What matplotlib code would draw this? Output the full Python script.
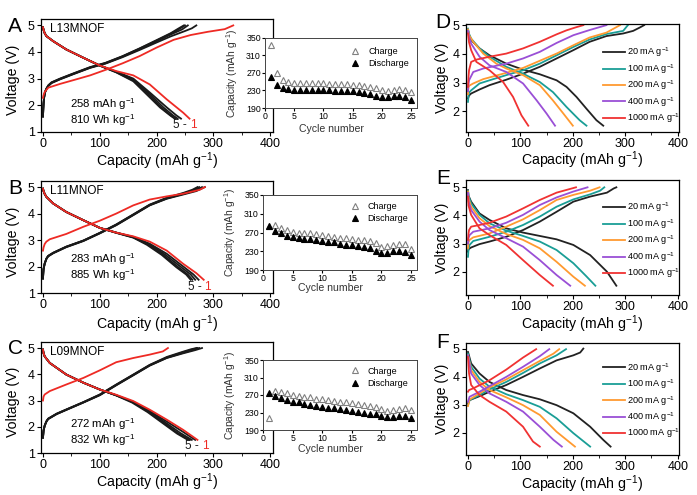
import matplotlib
matplotlib.use('Agg')
import matplotlib.pyplot as plt
from matplotlib.ticker import MultipleLocator

plt.rcParams['font.family'] = ['Liberation Sans', 'DejaVu Sans']
plt.rcParams['mathtext.default'] = 'regular'
plt.rcParams['axes.linewidth'] = 0.9
plt.rcParams['xtick.direction'] = 'out'
plt.rcParams['ytick.direction'] = 'out'

# ---------------- data: panels A-C (charge / discharge profiles) ----------------
A_name = "L13MNOF"; A_caption = ["258 mAh g$^{-1}$", "810 Wh kg$^{-1}$"]
A_chg_red_cap = [0, 0.6, 3, 9.4, 30, 60, 83, 112, 140, 170, 200, 230, 260, 290, 320, 335]
A_chg_red_v = [2.28, 2.35, 2.5, 2.66, 2.8, 2.98, 3.12, 3.34, 3.57, 3.84, 4.16, 4.45, 4.63, 4.75, 4.85, 4.99]
A_chg_blk_cap = [[0, 0.5, 1, 2, 3.5, 6, 9.4, 15, 30, 53, 83, 110, 140, 170, 200, 225, 250, 262, 270],
                 [0, 0.5, 1, 2, 3.5, 6, 9.4, 15, 30, 53, 83, 110, 140, 170, 200, 225, 245, 255],
                 [0, 0.5, 1, 2, 3.5, 6, 9.4, 15, 30, 53, 83, 110, 140, 170, 200, 225, 241, 250],
                 [0, 0.5, 1, 2, 3.5, 6, 9.4, 15, 30, 53, 83, 110, 140, 170, 200, 225, 239, 248]]
A_chg_blk_v = [[1.6, 1.85, 2.05, 2.28, 2.47, 2.6, 2.72, 2.83, 2.97, 3.16, 3.4, 3.56, 3.8, 4.07, 4.35, 4.58, 4.78, 4.88, 4.99],
               [1.59, 1.86, 2.06, 2.29, 2.48, 2.61, 2.73, 2.84, 2.98, 3.17, 3.41, 3.57, 3.82, 4.1, 4.4, 4.65, 4.84, 4.99],
               [1.58, 1.87, 2.07, 2.3, 2.49, 2.62, 2.74, 2.85, 2.99, 3.18, 3.42, 3.58, 3.83, 4.12, 4.42, 4.68, 4.87, 4.99],
               [1.57, 1.88, 2.08, 2.31, 2.5, 2.63, 2.75, 2.86, 3.0, 3.19, 3.43, 3.59, 3.84, 4.13, 4.44, 4.7, 4.88, 4.99]]
A_dis_red_cap = [0, 1, 3, 6, 18, 41, 71, 100, 129, 159, 188, 218, 247, 258]
A_dis_red_v = [4.92, 4.82, 4.7, 4.59, 4.4, 4.09, 3.78, 3.49, 3.28, 3.12, 2.78, 2.22, 1.72, 1.5]
A_dis_blk_cap = [[0, 1, 3, 6, 18, 41, 71, 100, 129, 159, 188, 218, 235, 243],
                 [0, 1, 3, 6, 18, 41, 71, 100, 129, 159, 188, 212, 229, 237],
                 [0, 1, 3, 6, 18, 41, 71, 100, 129, 159, 185, 208, 225, 233],
                 [0, 1, 3, 6, 18, 41, 71, 100, 129, 159, 183, 206, 224, 232]]
A_dis_blk_v = [[4.92, 4.82, 4.7, 4.59, 4.4, 4.09, 3.78, 3.49, 3.26, 3.0, 2.48, 1.92, 1.62, 1.5],
               [4.92, 4.82, 4.7, 4.59, 4.4, 4.09, 3.78, 3.49, 3.25, 2.97, 2.42, 1.92, 1.62, 1.5],
               [4.92, 4.82, 4.7, 4.59, 4.4, 4.09, 3.78, 3.49, 3.24, 2.93, 2.42, 1.92, 1.62, 1.5],
               [4.92, 4.82, 4.7, 4.59, 4.4, 4.09, 3.78, 3.48, 3.23, 2.9, 2.4, 1.92, 1.62, 1.5]]

B_name = "L11MNOF"; B_caption = ["283 mAh g$^{-1}$", "885 Wh kg$^{-1}$"]
B_chg_red_cap = [0, 1, 3, 6, 12, 41, 71, 100, 129, 159, 188, 218, 247, 276, 285]
B_chg_red_v = [2.6, 2.72, 2.85, 2.94, 3.03, 3.23, 3.5, 3.73, 4.0, 4.31, 4.53, 4.65, 4.75, 4.9, 5.0]
B_chg_blk_cap = [[0, 0.5, 1, 3, 6, 9, 18, 41, 71, 100, 129, 159, 188, 218, 247, 270, 285],
                 [0, 0.5, 1, 3, 6, 9, 18, 41, 71, 100, 129, 159, 188, 218, 247, 268, 280],
                 [0, 0.5, 1, 3, 6, 9, 18, 41, 71, 100, 129, 159, 188, 218, 247, 265, 275],
                 [0, 0.5, 1, 3, 6, 9, 18, 41, 71, 100, 129, 159, 188, 218, 247, 263, 272]]
B_chg_blk_v = [[1.56, 1.75, 1.9, 2.1, 2.28, 2.38, 2.5, 2.73, 2.96, 3.25, 3.56, 3.94, 4.31, 4.56, 4.72, 4.85, 5.0],
               [1.55, 1.75, 1.9, 2.11, 2.29, 2.39, 2.51, 2.74, 2.97, 3.26, 3.57, 3.95, 4.32, 4.57, 4.74, 4.87, 5.0],
               [1.55, 1.76, 1.91, 2.12, 2.3, 2.4, 2.52, 2.75, 2.98, 3.27, 3.58, 3.96, 4.33, 4.58, 4.76, 4.88, 5.0],
               [1.54, 1.76, 1.91, 2.12, 2.3, 2.4, 2.52, 2.75, 2.98, 3.27, 3.59, 3.97, 4.34, 4.6, 4.78, 4.9, 5.0]]
B_dis_red_cap = [0, 1, 3, 6, 18, 41, 71, 100, 129, 159, 188, 218, 247, 270, 283]
B_dis_red_v = [4.94, 4.85, 4.74, 4.63, 4.38, 4.06, 3.75, 3.46, 3.28, 3.14, 2.94, 2.6, 2.1, 1.75, 1.5]
B_dis_blk_cap = [[0, 1, 3, 6, 18, 41, 71, 100, 129, 159, 188, 218, 247, 265, 274],
                 [0, 1, 3, 6, 18, 41, 71, 100, 129, 159, 188, 215, 243, 260, 268],
                 [0, 1, 3, 6, 18, 41, 71, 100, 129, 159, 185, 211, 238, 255, 263],
                 [0, 1, 3, 6, 18, 41, 71, 100, 129, 159, 183, 209, 235, 252, 260]]
B_dis_blk_v = [[4.94, 4.85, 4.74, 4.63, 4.38, 4.06, 3.75, 3.46, 3.28, 3.12, 2.86, 2.48, 2.0, 1.7, 1.5],
               [4.94, 4.85, 4.74, 4.63, 4.38, 4.06, 3.75, 3.46, 3.28, 3.11, 2.83, 2.45, 1.98, 1.7, 1.5],
               [4.94, 4.85, 4.74, 4.63, 4.38, 4.06, 3.75, 3.46, 3.28, 3.1, 2.83, 2.45, 1.98, 1.7, 1.5],
               [4.94, 4.85, 4.74, 4.63, 4.38, 4.06, 3.75, 3.46, 3.27, 3.09, 2.82, 2.44, 1.97, 1.7, 1.5]]

C_name = "L09MNOF"; C_caption = ["272 mAh g$^{-1}$", "832 Wh kg$^{-1}$"]
C_chg_red_cap = [0, 1, 3, 12, 41, 71, 100, 129, 159, 188, 211, 220]
C_chg_red_v = [3.0, 3.15, 3.23, 3.36, 3.61, 3.86, 4.15, 4.46, 4.62, 4.75, 4.87, 5.0]
C_chg_blk_cap = [[0, 0.5, 1, 3, 6, 9, 24, 41, 71, 100, 129, 159, 188, 218, 247, 268, 280],
                 [0, 0.5, 1, 3, 6, 9, 24, 41, 71, 100, 129, 159, 188, 218, 247, 265, 275],
                 [0, 0.5, 1, 3, 6, 9, 24, 41, 71, 100, 129, 159, 188, 218, 247, 262, 272],
                 [0, 0.5, 1, 3, 6, 9, 24, 41, 71, 100, 129, 159, 188, 218, 245, 260, 270]]
C_chg_blk_v = [[1.6, 1.72, 1.85, 2.03, 2.19, 2.29, 2.48, 2.64, 2.92, 3.2, 3.58, 3.96, 4.33, 4.62, 4.8, 4.92, 5.0],
               [1.59, 1.72, 1.85, 2.04, 2.2, 2.3, 2.49, 2.65, 2.93, 3.21, 3.59, 3.97, 4.34, 4.63, 4.82, 4.93, 5.0],
               [1.58, 1.73, 1.86, 2.05, 2.2, 2.3, 2.49, 2.65, 2.93, 3.22, 3.6, 3.98, 4.35, 4.64, 4.84, 4.94, 5.0],
               [1.58, 1.73, 1.86, 2.05, 2.21, 2.31, 2.5, 2.66, 2.94, 3.23, 3.61, 3.99, 4.36, 4.66, 4.85, 4.95, 5.0]]
C_dis_red_cap = [0, 1, 3, 12, 41, 71, 100, 129, 159, 188, 218, 247, 272]
C_dis_red_v = [4.94, 4.8, 4.68, 4.43, 3.99, 3.68, 3.42, 3.22, 2.98, 2.65, 2.27, 1.88, 1.5]
C_dis_blk_cap = [[0, 1, 3, 12, 41, 71, 100, 129, 159, 188, 218, 247, 268],
                 [0, 1, 3, 12, 41, 71, 100, 129, 159, 188, 215, 242, 262],
                 [0, 1, 3, 12, 41, 71, 100, 129, 159, 186, 212, 238, 258],
                 [0, 1, 3, 12, 41, 71, 100, 129, 157, 184, 210, 236, 255]]
C_dis_blk_v = [[4.94, 4.8, 4.68, 4.43, 3.99, 3.68, 3.42, 3.2, 2.95, 2.6, 2.2, 1.8, 1.5],
               [4.94, 4.8, 4.68, 4.43, 3.99, 3.68, 3.42, 3.2, 2.94, 2.58, 2.17, 1.76, 1.5],
               [4.94, 4.8, 4.68, 4.43, 3.99, 3.68, 3.42, 3.2, 2.93, 2.57, 2.16, 1.75, 1.5],
               [4.94, 4.8, 4.68, 4.43, 3.99, 3.68, 3.42, 3.19, 2.92, 2.56, 2.15, 1.74, 1.5]]

# ---------------- data: insets (cycling) ----------------
cycles = [1, 2, 3, 4, 5, 6, 7, 8, 9, 10, 11, 12, 13, 14, 15, 16, 17, 18, 19, 20, 21, 22, 23, 24, 25]
A_cyc_charge = [335, 270, 255, 249, 247, 246, 246, 246, 246, 246, 245, 245, 245, 244, 243, 242, 240, 239, 235, 230, 228, 230, 234, 230, 226]
A_cyc_discharge = [261, 243, 236, 233, 232, 230, 230, 230, 230, 230, 230, 229, 229, 228, 228, 227, 225, 223, 218, 215, 215, 218, 217, 215, 209]
B_cyc_charge = [283, 285, 280, 275, 272, 270, 268, 268, 266, 264, 262, 261, 259, 258, 256, 255, 253, 251, 247, 240, 241, 243, 245, 245, 234]
B_cyc_discharge = [283, 274, 268, 262, 260, 259, 257, 256, 254, 251, 249, 249, 245, 243, 243, 241, 240, 238, 230, 227, 227, 230, 230, 228, 222]
C_cyc_charge = [218, 280, 276, 274, 271, 268, 266, 265, 262, 261, 259, 257, 255, 253, 251, 249, 248, 245, 243, 237, 234, 236, 239, 241, 236]
C_cyc_discharge = [275, 268, 263, 258, 255, 253, 249, 248, 245, 243, 241, 240, 237, 235, 234, 232, 230, 227, 226, 221, 220, 220, 222, 221, 218]

# ---------------- data: panels D-F (rate capability) ----------------
rates = ["20 mA g$^{-1}$", "100 mA g$^{-1}$", "200 mA g$^{-1}$", "400 mA g$^{-1}$", "1000 mA g$^{-1}$"]
rate_colors = ['#222222', '#1a9e96', '#ff9a30', '#9a4fd6', '#f03232']

D_chg_cap = [[0, 2, 6, 22, 41, 73, 105, 137, 169, 201, 232, 264, 296, 315, 328, 336],
             [0, 1, 2, 6, 22, 41, 73, 105, 137, 169, 201, 232, 264, 296, 305],
             [0, 1, 3, 10, 29, 73, 105, 137, 169, 201, 232, 264, 290],
             [0, 1, 2, 10, 29, 73, 105, 137, 169, 201, 232, 264],
             [0, 1, 2, 6, 16, 41, 73, 105, 137, 169, 188, 205, 220]]
D_chg_v = [[2.45, 2.55, 2.62, 2.76, 2.91, 3.1, 3.31, 3.55, 3.84, 4.13, 4.42, 4.62, 4.71, 4.8, 4.92, 5.0],
           [2.33, 2.55, 2.65, 2.73, 2.97, 3.08, 3.26, 3.43, 3.66, 3.95, 4.24, 4.5, 4.69, 4.8, 5.0],
           [2.6, 2.85, 2.9, 2.97, 3.12, 3.34, 3.51, 3.76, 4.01, 4.3, 4.57, 4.74, 5.0],
           [2.7, 2.95, 3.08, 3.37, 3.49, 3.66, 3.84, 4.07, 4.38, 4.65, 4.83, 5.0],
           [2.85, 3.2, 3.43, 3.72, 3.8, 3.9, 4.01, 4.19, 4.42, 4.68, 4.82, 4.92, 5.0]]
D_dis_cap = [[0, 2, 6, 22, 41, 73, 105, 137, 169, 188, 207, 226, 245, 258],
             [0, 2, 6, 22, 41, 73, 105, 137, 162, 188, 213, 226],
             [0, 2, 10, 29, 54, 73, 105, 137, 162, 182, 200],
             [0, 2, 6, 22, 41, 73, 105, 131, 150, 166],
             [0, 2, 6, 16, 41, 67, 86, 102, 115]]
D_dis_v = [[4.83, 4.65, 4.48, 4.19, 3.95, 3.66, 3.45, 3.29, 3.08, 2.85, 2.5, 2.09, 1.69, 1.5],
           [4.88, 4.7, 4.53, 4.19, 3.9, 3.55, 3.31, 3.02, 2.67, 2.15, 1.69, 1.5],
           [4.85, 4.65, 4.42, 4.01, 3.66, 3.49, 3.26, 2.91, 2.38, 1.92, 1.5],
           [4.8, 4.6, 4.36, 3.9, 3.6, 3.37, 2.97, 2.38, 1.92, 1.5],
           [4.71, 4.4, 4.13, 3.72, 3.43, 3.02, 2.5, 1.86, 1.5]]

E_chg_cap = [[0, 1, 6, 22, 41, 73, 105, 137, 169, 201, 233, 265, 278, 283],
             [0, 1, 3, 10, 41, 73, 105, 137, 169, 201, 233, 252, 260],
             [0, 1, 3, 10, 41, 73, 105, 137, 169, 201, 233, 251],
             [0, 1, 3, 10, 41, 73, 105, 137, 169, 201, 228],
             [0, 1, 2, 6, 22, 41, 73, 105, 137, 169, 206]]
E_chg_v = [[2.71, 2.8, 2.86, 2.98, 3.07, 3.24, 3.48, 3.78, 4.13, 4.49, 4.67, 4.81, 4.96, 5.0],
           [2.53, 2.8, 2.95, 3.09, 3.24, 3.42, 3.66, 3.96, 4.31, 4.57, 4.75, 4.88, 5.0],
           [2.83, 3.05, 3.13, 3.22, 3.36, 3.6, 3.86, 4.19, 4.55, 4.73, 4.88, 5.0],
           [3.0, 3.2, 3.3, 3.42, 3.54, 3.74, 4.02, 4.37, 4.64, 4.85, 5.0],
           [3.13, 3.35, 3.48, 3.6, 3.66, 3.74, 3.96, 4.25, 4.55, 4.81, 5.0]]
E_dis_cap = [[0, 1, 6, 22, 41, 73, 105, 137, 169, 201, 233, 265, 283],
             [0, 1, 6, 22, 41, 73, 105, 137, 169, 201, 225, 243],
             [0, 1, 6, 22, 41, 73, 105, 137, 169, 201, 223],
             [0, 1, 6, 22, 41, 73, 105, 137, 169, 195],
             [0, 1, 6, 22, 41, 73, 105, 137, 162]]
E_dis_v = [[4.9, 4.7, 4.49, 4.07, 3.84, 3.54, 3.39, 3.27, 3.15, 2.95, 2.59, 2.0, 1.5],
           [4.88, 4.7, 4.43, 4.02, 3.72, 3.46, 3.27, 3.07, 2.77, 2.3, 1.85, 1.5],
           [4.85, 4.6, 4.31, 3.9, 3.62, 3.34, 3.13, 2.83, 2.35, 1.82, 1.5],
           [4.8, 4.5, 4.19, 3.78, 3.48, 3.19, 2.89, 2.41, 1.88, 1.5],
           [4.67, 4.35, 4.02, 3.54, 3.3, 2.95, 2.41, 1.88, 1.5]]

F_chg_cap = [[0, 3, 22, 41, 73, 105, 137, 169, 201, 214, 220],
             [0, 3, 22, 41, 73, 105, 137, 169, 187],
             [0, 3, 22, 41, 73, 105, 137, 163, 174],
             [0, 3, 22, 41, 73, 105, 137, 155],
             [0, 2, 10, 41, 73, 105, 130]]
F_chg_v = [[3.04, 3.16, 3.3, 3.46, 3.7, 3.99, 4.29, 4.58, 4.76, 4.86, 5.0],
           [2.98, 3.16, 3.34, 3.54, 3.81, 4.13, 4.47, 4.76, 4.98],
           [2.95, 3.18, 3.4, 3.61, 3.9, 4.23, 4.56, 4.82, 4.98],
           [3.1, 3.28, 3.46, 3.66, 3.99, 4.35, 4.73, 4.98],
           [3.46, 3.52, 3.58, 3.87, 4.25, 4.68, 4.98]]
F_dis_cap = [[0, 6, 22, 41, 73, 105, 137, 169, 201, 233, 258, 272],
             [0, 6, 22, 41, 73, 105, 137, 169, 201, 233],
             [0, 6, 22, 41, 73, 105, 137, 169, 204],
             [0, 6, 22, 41, 73, 105, 137, 163, 179],
             [0, 2, 6, 22, 41, 73, 105, 124, 137]]
F_dis_v = [[4.88, 4.47, 4.11, 3.81, 3.52, 3.34, 3.19, 2.98, 2.69, 2.21, 1.74, 1.5],
           [4.82, 4.35, 3.93, 3.64, 3.37, 3.16, 2.92, 2.51, 1.98, 1.5],
           [4.76, 4.23, 3.81, 3.52, 3.26, 2.98, 2.63, 2.03, 1.5],
           [4.76, 4.11, 3.7, 3.4, 3.1, 2.75, 2.21, 1.74, 1.5],
           [4.7, 4.11, 3.7, 3.34, 3.1, 2.75, 2.21, 1.68, 1.5]]

# ---------------- figure ----------------
W, H = 697, 495
fig = plt.figure(figsize=(W / 100, H / 100), dpi=100)


def add_ax(x0, y0, x1, y1):
    return fig.add_axes([x0 / W, 1 - y1 / H, (x1 - x0) / W, (y1 - y0) / H])


cap_label = "Capacity (mAh g$^{-1}$)"
BLK = '#1a1a1a'
RED = '#ee2a24'
LW = 1.3
XLAB_FS = 10.2


def profile_panel(box, letter, name, caption, chg_blk, chg_red, dis_blk, dis_red, xlab_y, texty, caption_y, tag_xy):
    ax = add_ax(*box)
    for c, v in zip(*chg_blk):
        ax.plot(c, v, color=BLK, lw=LW)
    for c, v in zip(*dis_blk):
        ax.plot(c, v, color=BLK, lw=LW)
    ax.plot(chg_red[0], chg_red[1], color=RED, lw=LW)
    ax.plot(dis_red[0], dis_red[1], color=RED, lw=LW)
    ax.set_xlim(-3.5, 405)
    ax.set_ylim(1, 5.23)
    ax.set_xticks([0, 100, 200, 300, 400])
    ax.xaxis.set_minor_locator(MultipleLocator(50))
    ax.set_yticks([1, 2, 3, 4, 5])
    ax.tick_params(labelsize=9, length=3, pad=1.5)
    ax.tick_params(which='minor', length=2)
    ax.set_xlabel(cap_label, fontsize=XLAB_FS, va='center')
    ax.xaxis.set_label_coords(0.5, xlab_y)
    ax.set_ylabel("Voltage (V)", fontsize=XLAB_FS, va='center')
    ax.yaxis.set_label_coords(-0.12, 0.46)
    ax.text(12, texty, name, fontsize=8.5, va='center', ha='left')
    ax.text(47.6, caption_y, caption[0] + "\n" + caption[1], fontsize=8.2, va='center', ha='left',
            linespacing=1.0)
    ax.text(tag_xy[0], tag_xy[1], "5 - ", fontsize=8.5, va='center', ha='left', color=BLK)
    ax.annotate("1", xy=tag_xy, xytext=(12.0, 0), textcoords='offset points',
                fontsize=8.5, va='center', ha='left', color=RED)
    fig.text(15 / W, 1 - (box[1] + 7) / H, letter, fontsize=15, ha='center', va='center')
    return ax


def inset_panel(box, charge, discharge, xlab_y, leg_y):
    ax = add_ax(*box)
    ax.set_facecolor('white')
    ax.plot(cycles, charge, ls='none', marker='^', ms=4.6, mfc='white', mec='#808080', mew=0.8, label='Charge')
    ax.plot(cycles, discharge, ls='none', marker='^', ms=4.6, mfc='black', mec='black', mew=0.8, label='Discharge')
    ax.set_xlim(0, 26)
    ax.set_ylim(190, 350)
    ax.set_xticks([0, 5, 10, 15, 20, 25])
    ax.set_yticks([190, 230, 270, 310, 350])
    ax.tick_params(labelsize=6.3, length=2, pad=1)
    for s in ax.spines.values():
        s.set_linewidth(0.7)
        s.set_color('#444444')
    ax.set_xlabel("Cycle number", fontsize=7.6, va='center', color='#333333')
    ax.xaxis.set_label_coords(0.44, xlab_y)
    ax.set_ylabel(cap_label, fontsize=7.4, va='center', color='#333333')
    ax.yaxis.set_label_coords(-0.215, 0.5)
    ax.legend(loc='upper left', bbox_to_anchor=(0.565, leg_y), frameon=False, fontsize=6.5,
              handlelength=1.0, handletextpad=0.9, borderpad=0, borderaxespad=0, labelspacing=0.35,
              numpoints=1)
    return ax


def rate_panel(box, letter, chg_cap, chg_v, dis_cap, dis_v, ylim, xlab_y, leg_y):
    ax = add_ax(*box)
    for i in range(len(rates)):
        ax.plot(chg_cap[i], chg_v[i], color=rate_colors[i], lw=LW, label=rates[i])
        ax.plot(dis_cap[i], dis_v[i], color=rate_colors[i], lw=LW)
    ax.set_xlim(-3.8, 402.5)
    ax.set_ylim(*ylim)
    ax.set_xticks([0, 100, 200, 300, 400])
    ax.xaxis.set_minor_locator(MultipleLocator(50))
    ax.set_yticks([2, 3, 4, 5])
    ax.tick_params(labelsize=9, length=3, pad=1.5)
    ax.tick_params(which='minor', length=2)
    ax.set_xlabel(cap_label, fontsize=XLAB_FS, va='center')
    ax.xaxis.set_label_coords(0.545, xlab_y)
    ax.set_ylabel("Voltage (V)", fontsize=XLAB_FS, va='center')
    ax.yaxis.set_label_coords(-0.113, 0.5)
    ax.legend(loc='upper left', bbox_to_anchor=(0.643, leg_y), frameon=False, fontsize=6.6,
              handlelength=2.4, handletextpad=0.2, borderpad=0, borderaxespad=0, labelspacing=0.3)
    fig.text(443 / W, 1 - (box[1] - 1) / H, letter, fontsize=15, ha='center', va='center')
    return ax


profile_panel((41, 19, 273, 132), "A", A_name, A_caption,
              (A_chg_blk_cap, A_chg_blk_v), (A_chg_red_cap, A_chg_red_v),
              (A_dis_blk_cap, A_dis_blk_v), (A_dis_red_cap, A_dis_red_v),
              -0.255, 4.84, 1.735, (229, 1.25))
inset_panel((265, 38, 417, 108), A_cyc_charge, A_cyc_discharge, -0.3, 0.876)

profile_panel((41, 181, 273, 293), "B", B_name, B_caption,
              (B_chg_blk_cap, B_chg_blk_v), (B_chg_red_cap, B_chg_red_v),
              (B_dis_blk_cap, B_dis_blk_v), (B_dis_red_cap, B_dis_red_v),
              -0.275, 4.87, 1.99, (255, 1.24))
inset_panel((263, 195, 417, 270), B_cyc_charge, B_cyc_discharge, -0.24, 0.91)

profile_panel((41, 342, 273, 453), "C", C_name, C_caption,
              (C_chg_blk_cap, C_chg_blk_v), (C_chg_red_cap, C_chg_red_v),
              (C_dis_blk_cap, C_dis_blk_v), (C_dis_red_cap, C_dis_red_v),
              -0.26, 4.86, 1.8, (250, 1.26))
inset_panel((263, 360, 417, 430), C_cyc_charge, C_cyc_discharge, -0.27, 0.905)

rate_panel((466, 24, 679, 132), "D", D_chg_cap, D_chg_v, D_dis_cap, D_dis_v, (1.28, 5.04), -0.265, 0.80)
rate_panel((466, 180, 679, 295), "E", E_chg_cap, E_chg_v, E_dis_cap, E_dis_v, (1.17, 5.26), -0.25, 0.82)
rate_panel((466, 343, 679, 455), "F", F_chg_cap, F_chg_v, F_dis_cap, F_dis_v, (1.2, 5.2), -0.265, 0.84)

fig.savefig("out.png", dpi=100)
